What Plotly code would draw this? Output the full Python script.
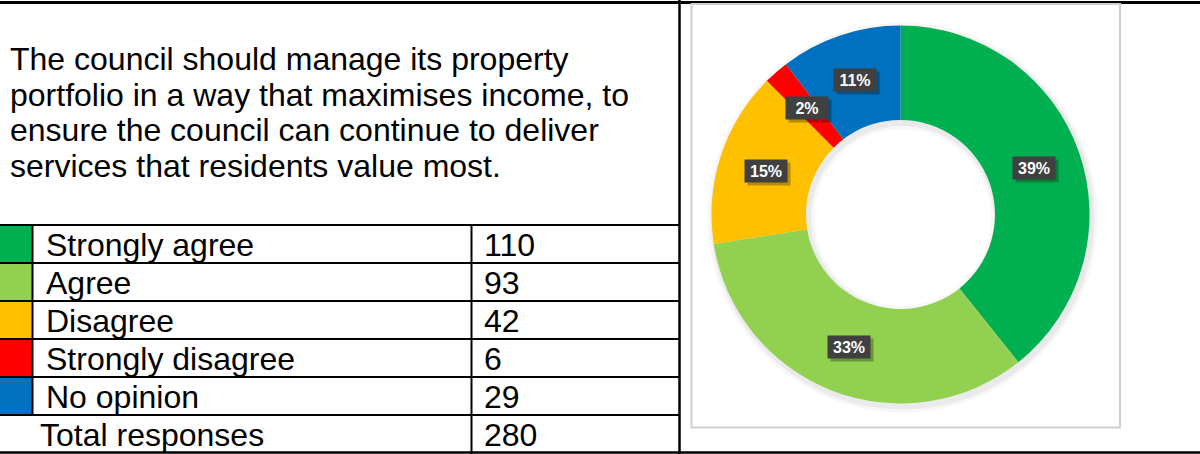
import math
import plotly.graph_objects as go

W, H = 1200, 454

# data
title_lines = [
    "The council should manage its property",
    "portfolio in a way that maximises income, to",
    "ensure the council can continue to deliver",
    "services that residents value most.",
]
categories = ["Strongly agree", "Agree", "Disagree", "Strongly disagree", "No opinion"]
responses = [110, 93, 42, 6, 29]
total_label = "Total responses"
total_value = 280
pct_labels = ["39%", "33%", "15%", "2%", "11%"]
colors = ["#00B050", "#92D050", "#FFC000", "#FF0000", "#0070C0"]

FONT = "Liberation Sans, Arial, sans-serif"


def px(x):
    return x / W


def py(y):
    return 1 - y / H


# donut geometry (pixels)
cx, cy, R = 900.5, 214.5, 189
hole = 0.5
r_in = R * hole

fig = go.Figure()

# soft drop shadow behind the ring
for grow, alpha in [(6, 0.03), (3, 0.05)]:
    ro, ri = R + grow, r_in - grow
    sx, sy = cx + 2, cy + 3
    fig.add_trace(go.Pie(
        values=[1], sort=False, hole=ri / ro, textinfo="none", textposition="none",
        hoverinfo="skip", marker=dict(colors=["rgba(0,0,0,%s)" % alpha], line=dict(width=0)),
        domain=dict(x=[px(sx - ro), px(sx + ro)], y=[py(sy + ro), py(sy - ro)]),
        showlegend=False,
    ))

fig.add_trace(go.Pie(
    labels=categories, values=responses, sort=False, direction="clockwise", rotation=0,
    hole=hole, marker=dict(colors=colors, line=dict(width=0)),
    textinfo="none", textposition="none", hoverinfo="label+value+percent",
    domain=dict(x=[px(cx - R), px(cx + R)], y=[py(cy + R), py(cy - R)]),
    showlegend=False,
))

shapes = []
line_black = dict(color="black", width=2)

# outer frame lines
shapes.append(dict(type="line", xref="paper", yref="paper", x0=0, x1=1, y0=py(2.5), y1=py(2.5),
                   line=dict(color="black", width=3)))
shapes.append(dict(type="line", xref="paper", yref="paper", x0=0, x1=1, y0=py(452.5), y1=py(452.5),
                   line=dict(color="black", width=2.5)))
shapes.append(dict(type="line", xref="paper", yref="paper", x0=px(679.5), x1=px(679.5), y0=0, y1=1,
                   line=dict(color="black", width=2.5)))

# chart frame
shapes.append(dict(type="rect", xref="paper", yref="paper", x0=px(691.5), x1=px(1120), y0=py(427.5), y1=py(4),
                   line=dict(color="#cfcfcf", width=2), fillcolor="rgba(0,0,0,0)"))

# table
top, row_h = 225, 38
n_rows = len(categories) + 1
row_y = [top + i * row_h for i in range(n_rows + 1)]
row_y[-1] = 452.5
for i, c in enumerate(colors):
    shapes.append(dict(type="rect", xref="paper", yref="paper", x0=0, x1=px(32.5),
                       y0=py(row_y[i + 1]), y1=py(row_y[i]), fillcolor=c, line=dict(width=0), layer="below"))
for y in row_y[:-1]:
    shapes.append(dict(type="line", xref="paper", yref="paper", x0=0, x1=px(680), y0=py(y), y1=py(y),
                       line=line_black))
shapes.append(dict(type="line", xref="paper", yref="paper", x0=px(32.5), x1=px(32.5),
                   y0=py(row_y[len(categories)]), y1=py(top), line=line_black))
shapes.append(dict(type="line", xref="paper", yref="paper", x0=px(471.5), x1=px(471.5),
                   y0=0, y1=py(top), line=line_black))

ann = []
# question text
for i, t in enumerate(title_lines):
    ann.append(dict(text=t, xref="paper", yref="paper", x=px(9), y=py(59 + i * 35.7),
                    xanchor="left", yanchor="middle", showarrow=False, borderpad=0,
                    font=dict(family=FONT, size=32, color="black")))

# table rows
rows = list(zip(categories, responses)) + [(total_label, total_value)]
for i, (lab, val) in enumerate(rows):
    yc = (row_y[i] + row_y[i + 1]) / 2 + 1
    xl = 45 if i < len(categories) else 39
    ann.append(dict(text=lab, xref="paper", yref="paper", x=px(xl), y=py(yc),
                    xanchor="left", yanchor="middle", showarrow=False, borderpad=0,
                    font=dict(family=FONT, size=32, color="black")))
    ann.append(dict(text=str(val), xref="paper", yref="paper", x=px(483), y=py(yc),
                    xanchor="left", yanchor="middle", showarrow=False, borderpad=0,
                    font=dict(family=FONT, size=32, color="black")))

# donut data labels, placed at the middle of each slice
tot = sum(responses)
r_mid = (R + r_in) / 2
cum = 0
for v, lab in zip(responses, pct_labels):
    a = 2 * math.pi * (cum + v / 2) / tot
    cum += v
    lx = cx + r_mid * math.sin(a)
    ly = cy - r_mid * math.cos(a)
    box = dict(xref="paper", yref="paper", xanchor="center", yanchor="middle",
               showarrow=False, width=36, height=16, borderpad=3)
    ann.append(dict(box, text="", x=px(lx + 3), y=py(ly + 3),
                    bgcolor="rgba(0,0,0,0.28)", font=dict(size=16)))
    ann.append(dict(box, text="<b>%s</b>" % lab, x=px(lx), y=py(ly),
                    bgcolor="#404040", font=dict(family=FONT, size=16, color="white")))

fig.update_layout(
    width=W, height=H, margin=dict(l=0, r=0, t=0, b=0),
    paper_bgcolor="white", plot_bgcolor="white",
    shapes=shapes, annotations=ann,
)
fig.write_html("out.html", config={"displayModeBar": False},
               post_script="document.body.style.margin='0';")
